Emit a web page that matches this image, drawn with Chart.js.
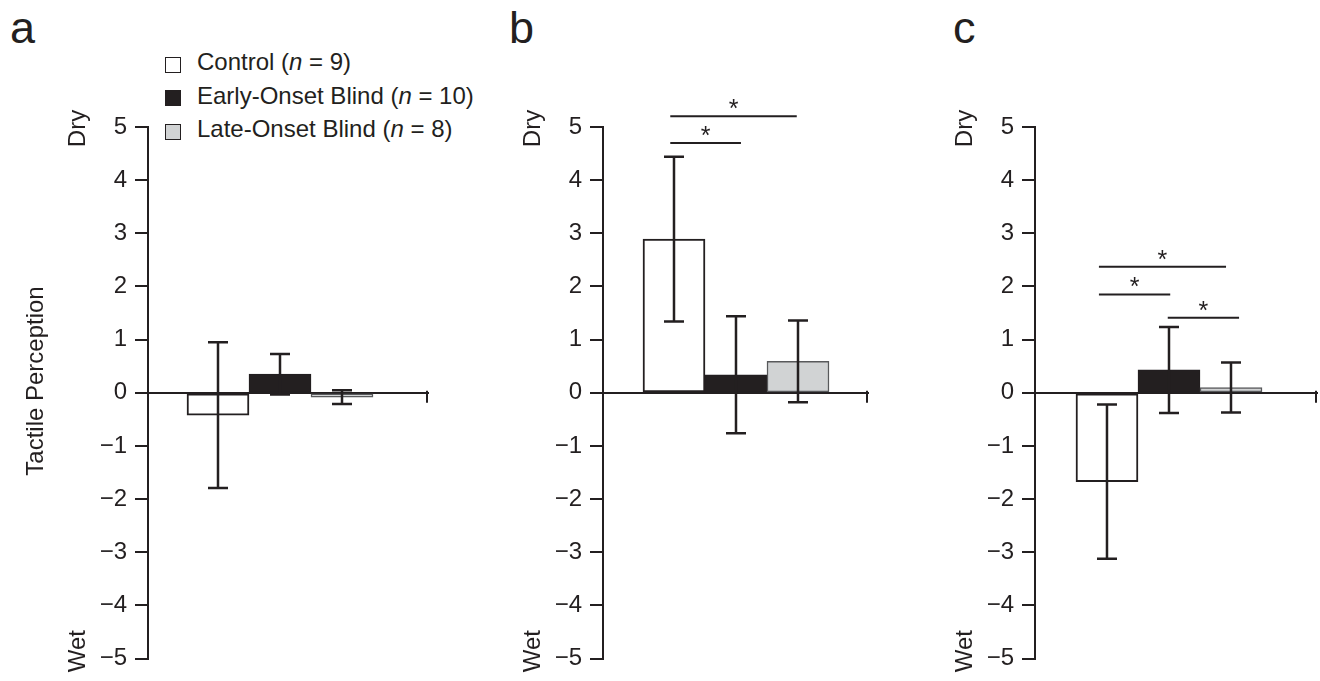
<!DOCTYPE html>
<html>
<head>
<meta charset="utf-8">
<script src="https://cdn.jsdelivr.net/npm/chart.js@4.4.0/dist/chart.umd.min.js"></script>
<style>
  body { margin: 0; background: #fff; width: 1320px; height: 681px; overflow: hidden; position: relative;
         font-family: "Liberation Sans", Arial, sans-serif; color: #231f20; }
  canvas { position: absolute; top: 0; }
  .letter { position: absolute; font-size: 45px; line-height: 45px; top: 5px; }
  .key { position: absolute; left: 165px; width: 14px; height: 14px; border: 1.5px solid #231f20; }
  .lab { position: absolute; left: 197px; font-size: 24px; line-height: 24px; white-space: nowrap; }
</style>
</head>
<body>
<div class="letter" style="left:10px">a</div>
<div class="letter" style="left:509px">b</div>
<div class="letter" style="left:953px">c</div>

<div id="legend"></div>

<canvas id="pa" width="440" height="681" style="left:0px"></canvas>
<canvas id="pb" width="420" height="681" style="left:460px"></canvas>
<canvas id="pc" width="430" height="681" style="left:890px"></canvas>

<script>
// groups and sample sizes
const groups = ['Control', 'Early-Onset Blind', 'Late-Onset Blind'];
const groupSizes = [9, 10, 8];
const yTickValues = [-5, -4, -3, -2, -1, 0, 1, 2, 3, 4, 5];

// means and error bars
const meansA = [-0.42, 0.35, -0.08];
const errorsA = [1.37, 0.38, 0.13];
const meansB = [2.89, 0.34, 0.59];
const errorsB = [1.55, 1.10, 0.77];
const meansC = [-1.67, 0.43, 0.10];
const errorsC = [1.45, 0.81, 0.47];

// significance brackets: [from group, to group, level]
const sigB = [[-0.06, 1.08, 4.70], [-0.06, 1.98, 5.20]];
const sigC = [[-0.13, 1.92, 2.37], [-0.13, 1.02, 1.85], [0.98, 2.13, 1.41]];

const INK = '#231f20';
const FONT = '"Liberation Sans", Arial, sans-serif';
const barFills = ['#ffffff', INK, '#d1d3d4'];
const barBorders = [INK, INK, '#58595b'];
const barBorderWidths = [2, 1, 1.5];

// legend (html so the italic n stays text)
const legendEl = document.getElementById('legend');
const keyTops = [57, 90, 123.5];
const labTops = [50, 84, 117];
groups.forEach((g, i) => {
    const sq = document.createElement('div');
    sq.className = 'key';
    sq.style.top = keyTops[i] + 'px';
    sq.style.background = barFills[i];
    legendEl.appendChild(sq);
    const lab = document.createElement('div');
    lab.className = 'lab';
    lab.style.top = labTops[i] + 'px';
    lab.innerHTML = `${g} (<i>n</i> = ${groupSizes[i]})`;
    legendEl.appendChild(lab);
});

const extras = {
    id: 'extras',
    afterDraw(chart, args, opts) {
        const ctx = chart.ctx;
        const xs = chart.scales.x, ys = chart.scales.y;
        const area = chart.chartArea;
        const meta = chart.getDatasetMeta(0);
        const y0 = ys.getPixelForValue(0);
        ctx.save();
        ctx.strokeStyle = INK;
        ctx.fillStyle = INK;

        // error bars
        ctx.lineWidth = 2.5;
        opts.means.forEach((m, i) => {
            const x = meta.data[i].x;
            const t = ys.getPixelForValue(m + opts.errors[i]);
            const b = ys.getPixelForValue(m - opts.errors[i]);
            ctx.beginPath();
            ctx.moveTo(x, t); ctx.lineTo(x, b);
            ctx.moveTo(x - 10, t); ctx.lineTo(x + 10, t);
            ctx.moveTo(x - 10, b); ctx.lineTo(x + 10, b);
            ctx.stroke();
        });

        // end tick on the x axis
        ctx.lineWidth = 2;
        ctx.beginPath();
        ctx.moveTo(area.right - 1, y0 - 2);
        ctx.lineTo(area.right - 1, y0 + 10);
        ctx.stroke();

        // significance lines
        ctx.font = '25px ' + FONT;
        ctx.textAlign = 'center';
        ctx.textBaseline = 'alphabetic';
        opts.sig.forEach(([a, b, lvl]) => {
            const x1 = xs.getPixelForValue(a), x2 = xs.getPixelForValue(b);
            const y = ys.getPixelForValue(lvl);
            ctx.beginPath();
            ctx.moveTo(x1, y); ctx.lineTo(x2, y);
            ctx.stroke();
            ctx.fillText('*', (x1 + x2) / 2, y + 1);
        });

        // Dry / Wet
        ctx.font = '24px ' + FONT;
        ctx.textAlign = 'center';
        ctx.textBaseline = 'alphabetic';
        [['Dry', area.top + 1.5], ['Wet', area.bottom - 7.5]].forEach(([txt, y]) => {
            ctx.save();
            ctx.translate(area.left - 63, y);
            ctx.rotate(-Math.PI / 2);
            ctx.fillText(txt, 0, 0);
            ctx.restore();
        });

        if (opts.title) {
            ctx.save();
            ctx.translate(43, 381);
            ctx.rotate(-Math.PI / 2);
            ctx.fillText(opts.title, 0, 0);
            ctx.restore();
        }
        ctx.restore();
    }
};

const panels = [
    { id: 'pa', padLeft: 88, padRight: 12, xMin: -1.129, xMax: 3.387, means: meansA, errors: errorsA, sig: [], title: 'Tactile Perception' },
    { id: 'pb', padLeft: 83, padRight: 12, xMin: -1.145, xMax: 3.129, means: meansB, errors: errorsB, sig: sigB, title: '' },
    { id: 'pc', padLeft: 85, padRight: 3, xMin: -1.161, xMax: 3.387, means: meansC, errors: errorsC, sig: sigC, title: '' }
];

panels.forEach(p => {
    new Chart(document.getElementById(p.id), {
        type: 'bar',
        data: {
            datasets: [{
                data: p.means.map((m, i) => ({ x: i, y: m })),
                backgroundColor: barFills,
                borderColor: barBorders,
                borderWidth: barBorderWidths,
                borderSkipped: false,
                barPercentage: 1,
                categoryPercentage: 1
            }]
        },
        options: {
            responsive: false,
            animation: false,
            events: [],
            layout: { padding: { left: p.padLeft, right: p.padRight, top: 127, bottom: 14 } },
            plugins: {
                legend: { display: false },
                tooltip: { enabled: false },
                extras: { means: p.means, errors: p.errors, sig: p.sig, title: p.title }
            },
            scales: {
                x: {
                    type: 'linear',
                    position: { y: 0 },
                    offset: false,
                    min: p.xMin,
                    max: p.xMax,
                    ticks: { display: false, stepSize: 1, includeBounds: false },
                    grid: { display: false, offset: false },
                    border: { display: true, color: INK, width: 2 }
                },
                y: {
                    min: -5,
                    max: 5,
                    afterBuildTicks: s => { s.ticks = yTickValues.map(v => ({ value: v })); },
                    afterFit: s => { s.width = 60; },
                    ticks: {
                        color: INK,
                        padding: 8,
                        font: { family: FONT, size: 24 },
                        callback: v => (v < 0 ? '\u2212' + Math.abs(v) : String(v))
                    },
                    grid: { drawOnChartArea: false, drawTicks: true, tickLength: 13, color: INK, lineWidth: 2 },
                    border: { display: true, color: INK, width: 2 }
                }
            }
        },
        plugins: [extras]
    });
});
</script>
</body>
</html>
